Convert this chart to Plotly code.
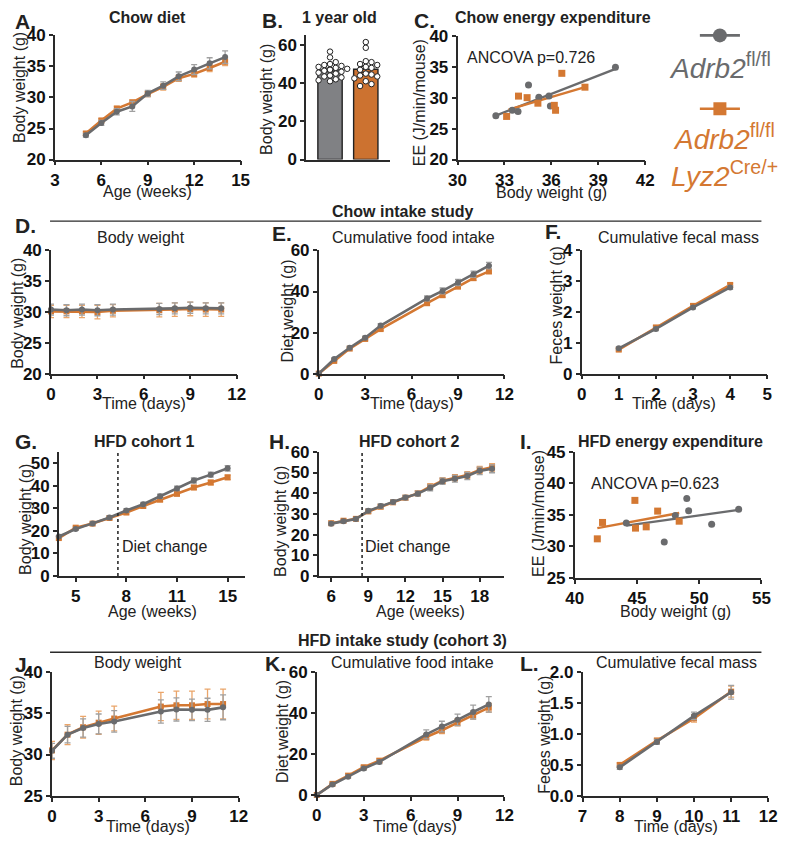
import numpy as np
import plotly.graph_objects as go

W, H = 789, 846
GRAY = "#6a6b6d"
ORANGE = "#d47832"
GRAY_ERR = "#a0a0a0"
ORANGE_ERR = "#eaa56a"
AXC = "#2a2a2a"
FONT = "Liberation Sans, Arial, sans-serif"

# ---------------- data ----------------
# A. Chow diet
a_weeks = [5, 6, 7, 8, 9, 10, 11, 12, 13, 14]
a_ctrl = [23.9, 25.9, 27.7, 28.55, 30.65, 31.9, 33.4, 34.5, 35.5, 36.5]
a_ctrl_sem = [0.3, 0.4, 0.5, 0.8, 0.5, 0.6, 0.7, 0.8, 0.9, 1.0]
a_ko = [24.2, 26.3, 28.2, 29.2, 30.55, 31.7, 33.1, 33.8, 34.75, 35.75]
a_ko_sem = [0.3, 0.3, 0.4, 0.4, 0.4, 0.5, 0.5, 0.5, 0.6, 0.6]

# B. 1 year old
b_ctrl = [56.5, 53.5, 51, 50, 49.5, 49, 48.5, 48, 47.5, 47, 46.5, 46, 45.5, 45,
          44, 43.5, 43, 42, 41.5, 41]
b_ko = [61.5, 58.5, 51.5, 51, 50, 49.5, 48.5, 48, 47, 45, 44.5, 44, 43.5, 42.5,
        41, 39.5, 38.5]

# C. Chow energy expenditure
c_ctrl_bw = [32.45, 33.5, 33.87, 34.54, 35.2, 35.85, 35.94, 40.1]
c_ctrl_ee = [27.1, 28.0, 27.8, 32.1, 30.1, 30.3, 28.7, 35.0]
c_ko_bw = [33.14, 33.9, 34.45, 35.14, 36.19, 36.27, 36.67, 38.15]
c_ko_ee = [27.0, 30.3, 30.05, 29.15, 28.8, 28.0, 34.0, 31.75]
c_ctrl_fit_bw = [32.45, 40.15]
c_ctrl_fit_ee = [27.15, 34.75]
c_ko_fit_bw = [33.26, 38.15]
c_ko_fit_ee = [28.1, 31.75]

# D-F. Chow intake study
d_days = [0, 1, 2, 3, 4, 7, 8, 9, 10, 11]
d_ctrl = [30.4, 30.3, 30.4, 30.3, 30.4, 30.5, 30.6, 30.7, 30.6, 30.6]
d_ctrl_sem = [0.9, 0.9, 0.9, 0.9, 0.9, 0.9, 0.9, 0.9, 0.9, 0.9]
d_ko = [30.1, 30.1, 30.1, 30.0, 30.2, 30.3, 30.4, 30.5, 30.4, 30.4]
d_ko_sem = [1.0, 1.0, 1.0, 1.1, 1.0, 1.1, 1.1, 1.1, 1.1, 1.1]

e_ctrl = [0, 7.1, 12.6, 17.5, 23.4, 36.6, 40.3, 44.4, 48.4, 52.6]
e_ctrl_sem = [0, 0.5, 0.6, 0.7, 0.9, 1.2, 1.4, 1.5, 1.5, 1.6]
e_ko = [0, 6.2, 12.2, 16.9, 21.7, 34.3, 38.2, 42.4, 46.5, 49.8]
e_ko_sem = [0, 0.4, 0.5, 0.6, 0.7, 0.9, 1.0, 1.0, 1.1, 1.1]

f_days = [1, 2, 3, 4]
f_ctrl = [0.82, 1.45, 2.15, 2.8]
f_ctrl_sem = [0.04, 0.05, 0.05, 0.06]
f_ko = [0.78, 1.5, 2.2, 2.88]
f_ko_sem = [0.04, 0.05, 0.05, 0.06]

# G. HFD cohort 1
g_weeks = [4, 5, 6, 7, 8, 9, 10, 11, 12, 13, 14]
g_ctrl = [17.5, 20.8, 23.3, 25.9, 29.0, 31.8, 35.3, 38.8, 42.3, 44.9, 47.7]
g_ctrl_sem = [0.6, 0.6, 0.7, 0.7, 0.8, 0.8, 0.9, 1.0, 1.1, 1.1, 1.2]
g_ko = [16.8, 21.4, 23.2, 25.7, 28.1, 31.0, 33.8, 36.4, 39.2, 41.4, 43.7]
g_ko_sem = [0.5, 0.6, 0.6, 0.7, 0.7, 0.8, 0.8, 0.9, 0.9, 1.0, 1.0]
g_xticks = [5, 8, 11, 14]
g_xticklabels = ["5", "8", "11", "15"]
g_diet_change = 7.5

# H. HFD cohort 2
h_weeks = [6, 7, 8, 9, 10, 11, 12, 13, 14, 15, 16, 17, 18, 19]
h_ctrl = [25.3, 26.5, 27.5, 31.5, 33.8, 35.8, 37.9, 39.8, 42.6, 45.8, 47.0, 48.3, 50.8, 51.8]
h_ctrl_sem = [0.7, 0.7, 0.7, 0.9, 1.0, 1.0, 1.1, 1.2, 1.4, 1.5, 1.6, 1.7, 1.8, 1.9]
h_ko = [25.5, 26.7, 27.6, 31.2, 33.5, 35.6, 37.8, 39.9, 43.2, 46.0, 47.5, 48.8, 51.2, 52.5]
h_ko_sem = [0.7, 0.7, 0.7, 0.9, 1.0, 1.0, 1.1, 1.2, 1.3, 1.4, 1.5, 1.6, 1.7, 1.8]
h_diet_change = 8.5

# I. HFD energy expenditure
i_ctrl_bw = [44.14, 48.08, 49.0, 49.15, 47.19, 51.0, 53.17]
i_ctrl_ee = [33.7, 34.9, 37.6, 35.65, 30.7, 33.5, 35.9]
i_ko_bw = [41.81, 42.23, 44.83, 44.88, 45.74, 46.66, 48.39]
i_ko_ee = [31.2, 33.8, 37.3, 32.9, 33.1, 35.6, 34.0]
i_ctrl_fit_bw = [44.14, 53.17]
i_ctrl_fit_ee = [33.3, 35.8]
i_ko_fit_bw = [41.81, 48.39]
i_ko_fit_ee = [32.9, 35.3]

# J-L. HFD intake study (cohort 3)
j_days = [0, 1, 2, 3, 4, 7, 8, 9, 10, 11]
j_ctrl = [30.45, 32.4, 33.2, 33.7, 34.0, 35.2, 35.45, 35.4, 35.4, 35.7]
j_ctrl_sem = [0.9, 1.0, 1.1, 1.2, 1.3, 1.4, 1.4, 1.3, 1.4, 1.5]
j_ko = [30.5, 32.4, 33.3, 33.85, 34.35, 35.8, 35.95, 35.95, 36.1, 36.1]
j_ko_sem = [1.1, 1.2, 1.3, 1.4, 1.5, 1.7, 1.7, 1.7, 1.8, 1.8]

k_ctrl = [0, 5.1, 8.9, 12.9, 16.1, 29.5, 33.3, 36.6, 40.4, 44.1]
k_ctrl_sem = [0, 0.5, 0.7, 0.9, 1.0, 2.2, 2.6, 2.8, 3.4, 3.8]
k_ko = [0, 5.4, 9.4, 13.5, 16.7, 28.2, 31.5, 35.4, 38.9, 42.5]
k_ko_sem = [0, 0.4, 0.6, 0.8, 0.9, 1.5, 1.6, 1.8, 1.9, 2.1]

l_days = [8, 9, 10, 11]
l_ctrl = [0.46, 0.87, 1.29, 1.67]
l_ctrl_sem = [0.03, 0.04, 0.06, 0.11]
l_ko = [0.5, 0.89, 1.25, 1.68]
l_ko_sem = [0.03, 0.04, 0.06, 0.09]

# ---------------- layout helpers ----------------
def xd(x0, x1):
    return [x0 / W, x1 / W]

def yd(yt, yb):
    return [1 - yb / H, 1 - yt / H]

def px(x):
    return x / W

def py(y):
    return 1 - y / H

# panel boxes in pixels: x0, x1, ytop, ybot, xrange, yrange, xticks, yticks
panels = [
    (47, 237, 27, 154, [3, 15], [20, 40], [3, 6, 9, 12, 15], [20, 25, 30, 35, 40]),      # A
    (304, 390, 27, 154, [-0.67, 1.68], [0, 65], [], [0, 20, 40, 60]),                     # B
    (459, 651, 28, 154, [30, 42], [20, 40], [30, 33, 36, 39, 42], [20, 25, 30, 35, 40]),  # C
    (43, 233, 247, 373, [0, 12], [20, 40], [0, 3, 6, 9, 12], [20, 25, 30, 35, 40]),       # D
    (317, 507, 247, 373, [0, 12], [0, 60], [0, 3, 6, 9, 12], [0, 20, 40, 60]),            # E
    (586, 776, 247, 373, [0, 5], [0, 4], [0, 1, 2, 3, 4, 5], [0, 1, 2, 3, 4]),            # F
    (51, 241, 453, 580, [4, 15], [0, 55], g_xticks, [0, 10, 20, 30, 40, 50]),             # G
    (317, 507, 453, 580, [5, 20], [0, 60], [6, 9, 12, 15, 18], [0, 10, 20, 30, 40, 50, 60]),  # H
    (579, 770, 453, 582, [40, 55], [25, 45], [40, 45, 50, 55], [25, 30, 35, 40, 45]),     # I
    (44, 235, 678, 805, [0, 12], [25, 40], [0, 3, 6, 9, 12], [25, 30, 35, 40]),           # J
    (315, 507, 678, 804, [0, 12], [0, 60], [0, 3, 6, 9, 12], [0, 20, 40, 60]),            # K
    (587, 777, 678, 805, [7, 12], [0, 2], [7, 8, 9, 10, 11, 12], [0, 0.5, 1.0, 1.5, 2.0]),  # L
]


def fmt(v):
    return str(int(v)) if float(v).is_integer() else str(v)


def bold_labels(vals, labels=None):
    labels = labels if labels is not None else [fmt(v) for v in vals]
    return ["<b>" + s + "</b>" for s in labels]


TICKFONT = dict(family=FONT, size=17, color="#111", weight=700)
layout = dict(
    width=W, height=H, margin=dict(l=0, r=0, t=0, b=0),
    paper_bgcolor="white", plot_bgcolor="white", showlegend=False,
    font=dict(family=FONT, color="#222"),
)
for i, (x0, x1, yt, yb, xr, yr, xt, yt_) in enumerate(panels, start=1):
    s = "" if i == 1 else str(i)
    xlabels = bold_labels(xt, g_xticklabels if i == 7 else None)
    ylabels = bold_labels(yt_, ["0.0", "0.5", "1.0", "1.5", "2.0"] if i == 12 else None)
    xa = dict(domain=xd(x0, x1), range=xr, anchor="y" + s, showline=True, linecolor=AXC,
              linewidth=1.6, ticks="outside" if xt else "", ticklen=4, tickwidth=1.6,
              tickcolor=AXC, showgrid=False, zeroline=False, tickfont=TICKFONT,
              tickmode="array", tickvals=xt, ticktext=xlabels, showticklabels=bool(xt))
    ya = dict(domain=yd(yt, yb), range=yr, anchor="x" + s, showline=True, linecolor=AXC,
              linewidth=1.6, ticks="outside", ticklen=4, tickwidth=1.6, tickcolor=AXC,
              showgrid=False, zeroline=False, tickfont=TICKFONT, tickmode="array",
              tickvals=yt_, ticktext=ylabels)
    layout["xaxis" + s] = xa
    layout["yaxis" + s] = ya

# legend axis (13)
layout["xaxis13"] = dict(domain=xd(700, 755), range=[700, 755], visible=False, anchor="y13")
layout["yaxis13"] = dict(domain=yd(10, 120), range=[120, 10], visible=False, anchor="x13")

fig = go.Figure()
fig.update_layout(**layout)


def ax(i):
    s = "" if i == 1 else str(i)
    return dict(xaxis="x" + s, yaxis="y" + s)


def series(i, x, y, err, color, ecolor, symbol, msize=6):
    fig.add_trace(go.Scatter(
        x=x, y=y, mode="lines+markers", cliponaxis=False,
        line=dict(color=color, width=2.6),
        marker=dict(symbol=symbol, size=msize, color=color),
        error_y=dict(type="data", array=err, visible=True, color=ecolor,
                     thickness=1.3, width=3),
        **ax(i)))


def pair(i, x, ctrl, ctrl_sem, ko, ko_sem):
    series(i, x, ko, ko_sem, ORANGE, ORANGE_ERR, "square", 6)
    series(i, x, ctrl, ctrl_sem, GRAY, GRAY_ERR, "circle", 6)


pair(1, a_weeks, a_ctrl, a_ctrl_sem, a_ko, a_ko_sem)
pair(4, d_days, d_ctrl, d_ctrl_sem, d_ko, d_ko_sem)
pair(5, d_days, e_ctrl, e_ctrl_sem, e_ko, e_ko_sem)
pair(6, f_days, f_ctrl, f_ctrl_sem, f_ko, f_ko_sem)
pair(7, g_weeks, g_ctrl, g_ctrl_sem, g_ko, g_ko_sem)
pair(8, h_weeks, h_ctrl, h_ctrl_sem, h_ko, h_ko_sem)
pair(10, j_days, j_ctrl, j_ctrl_sem, j_ko, j_ko_sem)
pair(11, j_days, k_ctrl, k_ctrl_sem, k_ko, k_ko_sem)
pair(12, l_days, l_ctrl, l_ctrl_sem, l_ko, l_ko_sem)


# scatter panels C and I
def ee_panel(i, cbw, cee, kbw, kee, cfx, cfy, kfx, kfy):
    fig.add_trace(go.Scatter(x=cfx, y=cfy, mode="lines", line=dict(color=GRAY, width=2.4), **ax(i)))
    fig.add_trace(go.Scatter(x=kfx, y=kfy, mode="lines", line=dict(color=ORANGE, width=2.4), **ax(i)))
    fig.add_trace(go.Scatter(x=cbw, y=cee, mode="markers", cliponaxis=False,
                             marker=dict(symbol="circle", size=7, color=GRAY), **ax(i)))
    fig.add_trace(go.Scatter(x=kbw, y=kee, mode="markers", cliponaxis=False,
                             marker=dict(symbol="square", size=7, color=ORANGE), **ax(i)))


ee_panel(3, c_ctrl_bw, c_ctrl_ee, c_ko_bw, c_ko_ee, c_ctrl_fit_bw, c_ctrl_fit_ee, c_ko_fit_bw, c_ko_fit_ee)
ee_panel(9, i_ctrl_bw, i_ctrl_ee, i_ko_bw, i_ko_ee, i_ctrl_fit_bw, i_ctrl_fit_ee, i_ko_fit_bw, i_ko_fit_ee)


# panel B: bars + beeswarm dots
def beeswarm(vals, center, xs_px, ys_px, d=5.6, step=0.16):
    placed, out = [], []
    for v in vals:
        for k in [0, 1, -1, 2, -2, 3, -3, 4, -4, 5, -5]:
            ox = k * step
            if all(((ox - a) * xs_px) ** 2 + ((v - b) * ys_px) ** 2 >= d * d for a, b in placed):
                break
        placed.append((ox, v))
        out.append(center + ox)
    return out


xs_px = (390 - 304) / (1.68 + 0.67)
ys_px = (154 - 27) / 65.0
for k, (vals, col) in enumerate([(b_ctrl, "#808184"), (b_ko, "#cc7230")]):
    arr = np.array(vals, dtype=float)
    m = arr.mean()
    sem = arr.std(ddof=1) / np.sqrt(len(arr))
    fig.add_trace(go.Bar(x=[k], y=[m], width=0.68, marker=dict(color=col, line=dict(color="#222", width=1.4)),
                         error_y=dict(type="data", array=[sem], visible=True, color="#222", thickness=1.3, width=6),
                         **ax(2)))
    fig.add_trace(go.Scatter(x=beeswarm(vals, k, xs_px, ys_px), y=vals, mode="markers", cliponaxis=False,
                             marker=dict(symbol="circle", size=5.5, color="white",
                                         line=dict(color="#222", width=1)), **ax(2)))

# legend glyphs
fig.add_trace(go.Scatter(x=[707, 748], y=[27, 27], mode="lines", line=dict(color=GRAY, width=2.6), **ax(13)))
fig.add_trace(go.Scatter(x=[727.5], y=[27], mode="markers", marker=dict(symbol="circle", size=14, color=GRAY), **ax(13)))
fig.add_trace(go.Scatter(x=[707, 748], y=[102, 102], mode="lines", line=dict(color=ORANGE, width=2.6), **ax(13)))
fig.add_trace(go.Scatter(x=[727.5], y=[102], mode="markers", marker=dict(symbol="square", size=13, color=ORANGE), **ax(13)))

# ---------------- text ----------------
ann = []


def text(t, x, y, size=15, anchor="center", angle=0, color="#222", bold=False):
    if bold:
        t = "<b>" + t + "</b>"
    ann.append(dict(text=t, x=px(x), y=py(y), xref="paper", yref="paper", showarrow=False,
                    xanchor=anchor, yanchor="middle", textangle=angle, borderpad=0,
                    font=dict(family=FONT, size=size, color=color)))


for lab, x, y in [("A.", 5, 13), ("B.", 258, 12), ("C.", 413, 12), ("D.", 5, 221),
                  ("E.", 268, 230), ("F.", 547, 228), ("G.", 5, 442), ("H.", 265, 442),
                  ("I.", 522, 442), ("J.", 5, 671), ("K.", 261, 670), ("L.", 522, 670)]:
    text(lab, x, y, size=21, anchor="left", bold=True)

for t, x, y, b in [("Chow diet", 142, 9, True), ("1 year old", 338, 9, True),
                   ("Chow energy expenditure", 557, 9, True),
                   ("Body weight", 135, 234, False), ("Cumulative food intake", 414, 234, False),
                   ("Cumulative fecal mass", 685, 234, False),
                   ("HFD cohort 1", 139, 442, True), ("HFD cohort 2", 410, 442, True),
                   ("HFD energy expenditure", 677, 442, True),
                   ("Body weight", 132, 669, False), ("Cumulative food intake", 413, 669, False),
                   ("Cumulative fecal mass", 683, 669, False),
                   ("Chow intake study", 403, 207, True),
                   ("HFD intake study (cohort 3)", 403, 646, True)]:
    text(t, x, y, size=16, bold=b)

for t, x, y in [("Body weight (g)", 10, 80), ("Body weight (g)", 264, 92),
                ("EE (J/min/mouse)", 420, 96), ("Body weight (g)", 8, 311),
                ("Diet weight (g)", 285, 309), ("Feces weight (g)", 560, 303),
                ("Body weight (g)", 17, 522), ("Body weight (g)", 278, 524),
                ("EE (J/min/mouse)", 542, 516), ("Body weight (g)", 8, 738),
                ("Diet weight (g)", 280, 739), ("Feces weight (g)", 548, 742)]:
    text(t, x, y, size=16, angle=-90)

for t, x, y in [("Age (weeks)", 142, 187), ("Body weight (g)", 555, 188),
                ("Time (days)", 138, 404), ("Time (days)", 412, 404), ("Time (days)", 681, 404),
                ("Age (weeks)", 147, 616), ("Age (weeks)", 421, 616), ("Body weight (g)", 682, 616),
                ("Time (days)", 142, 836), ("Time (days)", 415, 836), ("Time (days)", 683, 836)]:
    text(t, x, y, size=16)

text("ANCOVA p=0.726", 468, 50, size=16, anchor="left")
text("ANCOVA p=0.623", 595, 485, size=16, anchor="left")
text("Diet change", 115, 550, size=16, anchor="left")
text("Diet change", 363, 550, size=16, anchor="left")

text("<i>Adrb2</i><sup>fl/fl</sup>", 674, 58, size=28, anchor="left", color=GRAY)
text("<i>Adrb2</i><sup>fl/fl</sup>", 678, 131, size=28, anchor="left", color=ORANGE)
text("<i>Lyz2</i><sup>Cre/+</sup>", 676, 169, size=28, anchor="left", color=ORANGE)

shapes = [
    dict(type="line", xref="paper", yref="paper", x0=px(42), x1=px(770), y0=py(217), y1=py(217),
         line=dict(color=AXC, width=1.4)),
    dict(type="line", xref="paper", yref="paper", x0=px(42), x1=px(770), y0=py(658), y1=py(658),
         line=dict(color=AXC, width=1.4)),
    dict(type="line", xref="x7", yref="y7", x0=g_diet_change, x1=g_diet_change, y0=0, y1=55,
         line=dict(color=AXC, width=1.6, dash="dot")),
    dict(type="line", xref="x8", yref="y8", x0=h_diet_change, x1=h_diet_change, y0=0, y1=60,
         line=dict(color=AXC, width=1.6, dash="dot")),
]
fig.update_layout(annotations=ann, shapes=shapes)

fig.write_html("out.html", config={"displayModeBar": False},
               post_script="document.body.style.margin='0';document.body.style.padding='0';"
                           "document.documentElement.style.overflow='hidden';")
